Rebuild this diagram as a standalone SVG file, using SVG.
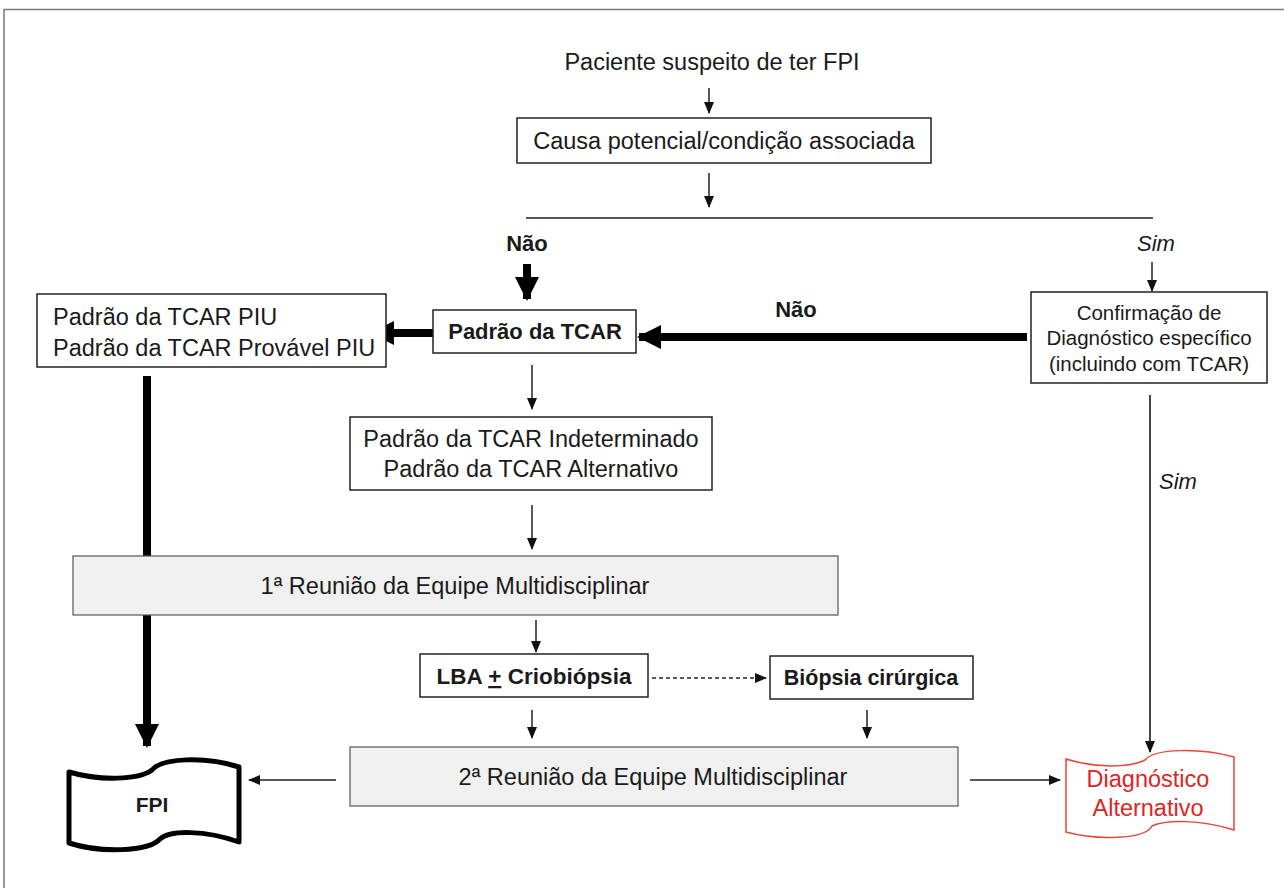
<svg xmlns="http://www.w3.org/2000/svg" width="1284" height="888" viewBox="0 0 1284 888">
<style>
text{font-family:"Liberation Sans",Arial,sans-serif;fill:#1a1a1a}
.t{font-size:23.5px}
.s{font-size:20.5px}
.b{font-weight:bold}
.i{font-style:italic}
.box{fill:#fff;stroke:#222;stroke-width:1.5}
.gbox{fill:#f0f0f0;stroke:#555;stroke-width:1.2}
.thin{stroke:#222;stroke-width:1.5;fill:none}
.thick{stroke:#000;stroke-width:8;fill:none}
</style>
<defs>
<marker id="ah" markerUnits="userSpaceOnUse" markerWidth="12" markerHeight="10" refX="11" refY="5" orient="auto">
<path d="M0,0 L12,5 L0,10 Z" fill="#111"/>
</marker>
<marker id="ahT" markerUnits="userSpaceOnUse" markerWidth="24" markerHeight="24" refX="22" refY="12" orient="auto">
<path d="M0,0 L24,12 L0,24 Z" fill="#000"/>
</marker>
</defs>
<g id="frame">
<path d="M4,888 L4,9.5 L1284,9.5" fill="none" stroke="#777" stroke-width="1.5"/>
</g>
<g id="connectors">
<line class="thin" x1="709" y1="88" x2="709" y2="113" marker-end="url(#ah)"/>
<line class="thin" x1="709" y1="173" x2="709" y2="207" marker-end="url(#ah)"/>
<line x1="526" y1="218" x2="1153" y2="218" stroke="#555" stroke-width="2"/>
<line class="thick" x1="527" y1="264" x2="527" y2="299" marker-end="url(#ahT)"/>
<line class="thin" x1="1152" y1="262" x2="1152" y2="291" marker-end="url(#ah)"/>
<line class="thick" x1="1027" y1="337" x2="639" y2="337" marker-end="url(#ahT)"/>
<line class="thick" x1="433" y1="333" x2="372" y2="333" marker-end="url(#ahT)"/>
<line class="thin" x1="532" y1="365" x2="532" y2="409" marker-end="url(#ah)"/>
<line class="thin" x1="532" y1="505" x2="532" y2="549" marker-end="url(#ah)"/>
<line class="thick" x1="147" y1="376" x2="147" y2="746" stroke-width="7" marker-end="url(#ahT)"/>
<line class="thin" x1="536" y1="620" x2="536" y2="652" marker-end="url(#ah)"/>
<line class="thin" x1="652" y1="678" x2="766" y2="678" stroke-dasharray="4,3" marker-end="url(#ah)"/>
<line class="thin" x1="532" y1="710" x2="532" y2="738" marker-end="url(#ah)"/>
<line class="thin" x1="867" y1="710" x2="867" y2="738" marker-end="url(#ah)"/>
<line class="thin" x1="336" y1="780" x2="249" y2="780" marker-end="url(#ah)"/>
<line class="thin" x1="970" y1="780" x2="1060" y2="780" marker-end="url(#ah)"/>
<line x1="1150" y1="395" x2="1150" y2="752" stroke="#333" stroke-width="1.8" marker-end="url(#ah)"/>
<text class="t b" x="527" y="251" text-anchor="middle" style="font-size:22px">Não</text>
<text class="t i" x="1156" y="251" text-anchor="middle" style="font-size:22px">Sim</text>
<text class="t b" x="796" y="317" text-anchor="middle" style="font-size:22px">Não</text>
<text class="t i" x="1178" y="489" text-anchor="middle" style="font-size:22px">Sim</text>
</g>
<g id="start">
<text class="t" x="712" y="70" text-anchor="middle">Paciente suspeito de ter FPI</text>
</g>
<g id="causa">
<rect class="box" x="517" y="118" width="414" height="45"/>
<text class="t" x="724" y="149" text-anchor="middle">Causa potencial/condição associada</text>
</g>
<g id="padrao">
<rect class="box" x="433" y="310" width="203" height="43"/>
<text class="t b" x="535" y="339" text-anchor="middle" style="font-size:22px">Padrão da TCAR</text>
</g>
<g id="confirmacao">
<rect class="box" x="1031" y="292" width="236" height="91"/>
<text class="s" x="1149" y="320" text-anchor="middle">Confirmação de</text>
<text class="s" x="1149" y="345" text-anchor="middle">Diagnóstico específico</text>
<text class="s" x="1149" y="371" text-anchor="middle">(incluindo com TCAR)</text>
</g>
<g id="piu">
<rect class="box" x="37" y="294" width="349" height="73"/>
<text class="t" x="53" y="325">Padrão da TCAR PIU</text>
<text class="t" x="53" y="356">Padrão da TCAR Provável PIU</text>
</g>
<g id="indeterminado">
<rect class="box" x="350" y="417" width="362" height="73"/>
<text class="t" x="531" y="447" text-anchor="middle">Padrão da TCAR Indeterminado</text>
<text class="t" x="531" y="477" text-anchor="middle">Padrão da TCAR Alternativo</text>
</g>
<g id="reuniao1">
<rect class="gbox" x="73" y="556" width="765" height="59"/>
<text class="t" x="455" y="594" text-anchor="middle">1ª Reunião da Equipe Multidisciplinar</text>
</g>
<g id="lba">
<rect class="box" x="420" y="654" width="228" height="43"/>
<text class="t b" x="534" y="684" text-anchor="middle" style="font-size:22.5px">LBA <tspan text-decoration="underline">+</tspan> Criobiópsia</text>
</g>
<g id="biopsia">
<rect class="box" x="770" y="656" width="203" height="43"/>
<text class="t b" x="871" y="685" text-anchor="middle" style="font-size:21.5px">Biópsia cirúrgica</text>
</g>
<g id="reuniao2">
<rect class="gbox" x="350" y="747" width="608" height="59"/>
<text class="t" x="653" y="785" text-anchor="middle">2ª Reunião da Equipe Multidisciplinar</text>
</g>
<g id="fpi">
<path d="M69,772 C100,781 138,780 152,770 C162,758 205,756 239,767 L239,842 C205,830 170,830 160,839 C148,852 100,853 69,843 Z" fill="#fff" stroke="#000" stroke-width="5" stroke-linejoin="round"/>
<text class="b" x="152" y="812" text-anchor="middle" style="font-size:21px">FPI</text>
</g>
<g id="alternativo">
<path d="M1066,759 C1095,768 1130,768 1145,760 C1155,748 1200,748 1234,757 L1234,830 C1200,819 1165,820 1152,826 C1145,840 1095,840 1066,832 Z" fill="#fff" stroke="#e8463a" stroke-width="1.5"/>
<text class="t" x="1148" y="787" text-anchor="middle" style="fill:#e0241f">Diagnóstico</text>
<text class="t" x="1148" y="816" text-anchor="middle" style="fill:#e0241f">Alternativo</text>
</g>
</svg>
